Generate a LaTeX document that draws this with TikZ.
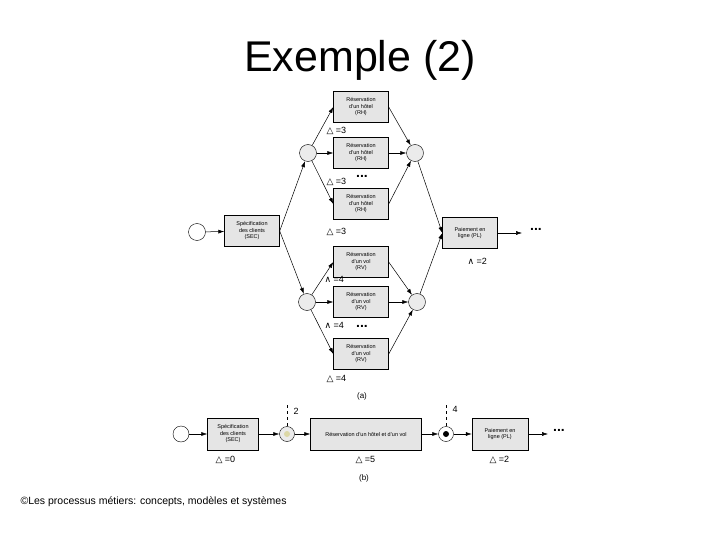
\documentclass[tikz,border=0pt]{standalone}
\usepackage{fontspec}
\setmainfont{Liberation Sans}
\newfontfamily\dv{DejaVu Sans}
\usetikzlibrary{arrows.meta}
\begin{document}
\begin{tikzpicture}[x=1pt,y=-1pt,
  act/.style={draw,fill=black!10,minimum width=55pt,minimum height=31pt,inner sep=1pt,align=center,font=\fontsize{5.5}{6.5}\selectfont},
  gate/.style={draw,fill=black!8,circle,minimum size=17pt,inner sep=0pt},
  lab/.style={font=\fontsize{9}{10}\selectfont,anchor=west},
  dots/.style={font=\fontsize{14}{14}\bfseries},
  arr/.style={-{Latex[length=6pt,width=4pt]},line width=0.5pt}]
\useasboundingbox (0,0) rectangle (720,540);
\node[font=\fontsize{43}{47}\selectfont] (title) at (360,60) {Exemple (2)};
% (a)
\node[draw,circle,minimum size=17pt,inner sep=0pt] (s) at (197,232) {};
\node[act] (sec) at (252,231) {Spécification\\des clients\\(SEC)};
\node[gate] (f1) at (308,153) {};
\node[gate] (f2) at (307,302) {};
\node[gate] (j1) at (415,153) {};
\node[gate] (j2) at (417,302) {};
\node[act] (h1) at (361,107) {Réservation\\d'un hôtel\\(RH)};
\node[act] (h2) at (361,153) {Réservation\\d'un hôtel\\(RH)};
\node[act] (h3) at (361,204) {Réservation\\d'un hôtel\\(RH)};
\node[act] (v1) at (361,262) {Réservation\\d'un vol\\(RV)};
\node[act] (v2) at (361,302) {Réservation\\d'un vol\\(RV)};
\node[act] (v3) at (361,354) {Réservation\\d'un vol\\(RV)};
\node[act] (pl) at (470,233) {Paiement en\\ligne (PL)};
\coordinate (pe) at (522,233);
\node[dots] (d1) at (536,229) {...};
\draw[arr] (s) -- (sec);
\draw[arr] (sec.east) -- (f1);
\draw[arr] (sec.east) -- (f2);
\foreach \h in {h1,h2,h3}{\draw[arr] (f1) -- (\h.west); \draw[arr] (\h.east) -- (j1);}
\foreach \v in {v1,v2,v3}{\draw[arr] (f2) -- (\v.west); \draw[arr] (\v.east) -- (j2);}
\draw[arr] (j1) -- (pl.west);
\draw[arr] (j2) -- (pl.west);
\draw[arr] (pl) -- (pe);
\node[lab] (l1) at (323,131) {{\dv △} =3};
\node[lab] (l2) at (323,182) {{\dv △} =3};
\node[dots] (d2) at (362,176) {...};
\node[lab] (l3) at (323,232) {{\dv △} =3};
\node[lab] (l4) at (321,279) {{\dv ∧} =4};
\node[lab] (l5) at (321,325) {{\dv ∧} =4};
\node[dots] (d3) at (362,326) {...};
\node[lab] (l6) at (323,379) {{\dv △} =4};
\node[lab] (l7) at (464,261) {{\dv ∧} =2};
\node[font=\fontsize{8}{9}\selectfont] (a) at (362,396) {(a)};
% (b)
\node[draw,circle,minimum size=16pt,inner sep=0pt] (bs) at (181,434) {};
\node[act,minimum width=51pt,minimum height=32pt] (bsec) at (233,434) {Spécification\\des clients\\(SEC)};
\node[gate,minimum size=15pt] (bg1) at (287,434) {};
\fill[yellow!60!black!40] (bg1) circle (3pt);
\node[act,minimum width=111pt,minimum height=32pt] (bres) at (366,434) {Réservation d'un hôtel et d'un vol};
\node[gate,minimum size=15pt,fill=white] (bg2) at (446,434) {};
\fill (bg2) circle (3pt);
\node[act,minimum width=56pt,minimum height=32pt] (bpl) at (500,434) {Paiement en\\ligne (PL)};
\coordinate (bpe) at (548,434);
\node[dots] (d4) at (559,430) {...};
\draw[arr] (bs) -- (bsec);
\draw[arr] (bsec) -- (bg1);
\draw[arr] (bg1) -- (bres);
\draw[arr] (bres) -- (bg2);
\draw[arr] (bg2) -- (bpl);
\draw[arr] (bpl) -- (bpe);
\coordinate (t1) at (287,405);
\coordinate (t2) at (446,405);
\draw[dashed] (t1) -- (bg1.north);
\draw[dashed] (t2) -- (bg2.north);
\node[lab] (n2) at (290,411) {2};
\node[lab] (n4) at (449,409) {4};
\node[lab] (b1) at (212,460) {{\dv △} =0};
\node[lab] (b2) at (352,460) {{\dv △} =5};
\node[lab] (b3) at (486,460) {{\dv △} =2};
\node[font=\fontsize{8}{9}\selectfont] (b) at (364,478) {(b)};
\node[font=\fontsize{10.5}{12}\selectfont,anchor=west] (foot) at (17,502) {©Les processus métiers: concepts, modèles et systèmes};
\end{tikzpicture}
\end{document}
